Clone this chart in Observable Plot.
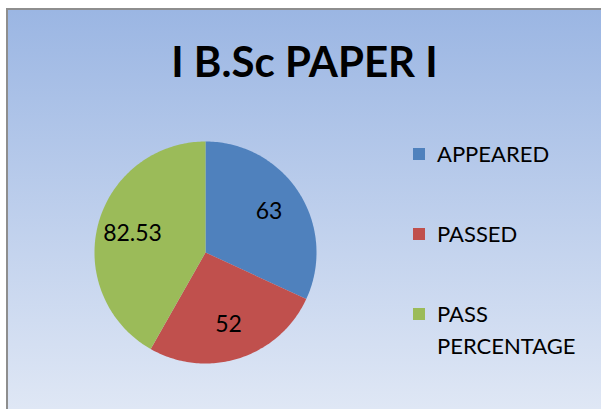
<!DOCTYPE html>
<html><head><meta charset="utf-8">
<script src="https://cdn.jsdelivr.net/npm/d3@7"></script>
<script src="https://cdn.jsdelivr.net/npm/@observablehq/plot@0.6"></script>
<style>
html,body{margin:0;padding:0;background:#fff;width:601px;height:409px;overflow:hidden;position:relative;}
#bg{position:absolute;left:6px;top:8px;width:593px;height:399px;border-left:2px solid #8e8e8e;border-top:2px solid #8e8e8e;background:linear-gradient(#9bb6e3,#dfe7f5);}
#title{position:absolute;left:8px;right:0;top:40px;text-align:center;font-family:Lato,sans-serif;font-weight:bold;font-size:42px;line-height:42px;color:#000;}
#plot{position:absolute;left:0;top:0;}
#legend{position:absolute;left:413px;top:138px;font-family:Lato,sans-serif;font-size:22px;line-height:32px;color:#000;display:flex;flex-direction:column;gap:48px;}
.item{position:relative;padding-left:24px;width:150px;}
.sw{position:absolute;left:0;top:10px;width:12px;height:12px;}
</style>
</head><body>
<div id="bg"></div>
<div id="title"></div>
<div id="plot"></div>
<div id="legend"></div>
<script>
const title = "I B.Sc PAPER I";
const categories = ["APPEARED", "PASSED", "PASS PERCENTAGE"];
const values = [63, 52, 82.53];
const colors = ["#4f81bd", "#c0504d", "#9bbb59"];

document.getElementById("title").textContent = title;

const total = d3.sum(values);
let acc = 0;
const slices = categories.map((c, i) => {
  const a0 = acc / total * 2 * Math.PI;
  acc += values[i];
  const a1 = acc / total * 2 * Math.PI;
  return {cat: c, value: values[i], a0, a1, mid: (a0 + a1) / 2};
});
const pts = [];
for (const s of slices) {
  pts.push({cat: s.cat, x: 0, y: 0});
  const n = Math.max(2, Math.ceil((s.a1 - s.a0) / (Math.PI / 180)));
  for (let k = 0; k <= n; k++) {
    const a = s.a0 + (s.a1 - s.a0) * k / n;
    pts.push({cat: s.cat, x: Math.sin(a), y: Math.cos(a)});
  }
}
const labelR = 0.68;

const plot = Plot.plot({
  width: 601, height: 409,
  margin: 0,
  style: {background: "transparent", overflow: "visible"},
  x: {domain: [-1, 1], range: [94, 316], axis: null},
  y: {domain: [-1, 1], range: [363, 141], axis: null},
  color: {type: "ordinal", domain: categories, range: colors},
  marks: [
    Plot.line(pts, {x: "x", y: "y", z: "cat", fill: "cat", stroke: "none"}),
    Plot.text(slices, {
      x: d => labelR * Math.sin(d.mid),
      y: d => labelR * Math.cos(d.mid),
      text: d => String(d.value),
      fontSize: 23, fontFamily: "Lato, sans-serif", fill: "#000"
    })
  ]
});
document.getElementById("plot").appendChild(plot);

const leg = d3.select("#legend").selectAll(".item").data(categories).join("div").attr("class", "item");
leg.append("div").attr("class", "sw").style("background", (d, i) => colors[i]);
leg.append("span").text(d => d);
</script>
</body></html>
